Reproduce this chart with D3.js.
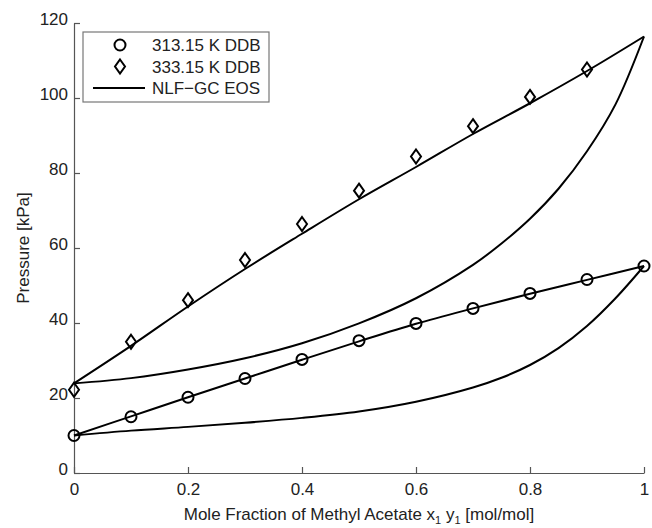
<!DOCTYPE html>
<html>
<head>
<meta charset="utf-8">
<script src="https://cdn.jsdelivr.net/npm/d3@7/dist/d3.min.js"></script>
<style>
  html, body { margin: 0; padding: 0; background: #fff; }
  svg { display: block; }
  text { font-family: "Liberation Sans", Arial, sans-serif; fill: #222; }
</style>
</head>
<body>
<svg id="chart" width="652" height="528"></svg>
<script>
// ---- data ----
const xData = [0, 0.1, 0.2, 0.3, 0.4, 0.5, 0.6, 0.7, 0.8, 0.9, 1.0];
const p313 = [10.0, 15.0, 20.2, 25.2, 30.3, 35.3, 39.9, 43.9, 47.9, 51.6, 55.2];
const x333 = [0, 0.1, 0.2, 0.3, 0.4, 0.5, 0.6, 0.7, 0.8, 0.9];
const p333 = [22.2, 35.0, 46.1, 56.8, 66.4, 75.3, 84.4, 92.5, 100.3, 107.6];

// NLF-GC EOS model curves
const bubbleX = [0, 0.1, 0.2, 0.3, 0.4, 0.5, 0.6, 0.7, 0.8, 0.9, 1.0];
const bubble313 = [10.0, 15.1, 20.2, 25.2, 30.2, 35.1, 39.8, 43.9, 47.8, 51.5, 55.2];
const bubble333 = [23.9, 33.9, 44.4, 54.4, 63.8, 73.0, 81.6, 90.4, 98.6, 107.2, 116.4];
const dewX = [0, 0.1, 0.2, 0.3, 0.4, 0.5, 0.6, 0.7, 0.75, 0.8, 0.85, 0.9, 0.95, 1.0];
const dew313 = [10.0, 11.3, 12.3, 13.4, 14.7, 16.4, 19.0, 22.8, 25.4, 28.8, 33.3, 39.2, 46.6, 55.2];
const dew333 = [23.9, 25.3, 27.6, 30.6, 34.6, 39.9, 46.6, 55.5, 61.2, 67.8, 75.8, 85.8, 98.3, 116.4];

const xTicks = [0, 0.2, 0.4, 0.6, 0.8, 1];
const yTicks = [0, 20, 40, 60, 80, 100, 120];
const legendLabels = ["313.15 K DDB", "333.15 K DDB", "NLF\u2212GC EOS"];

// ---- layout ----
const svg = d3.select("#chart");
const x = d3.scaleLinear().domain([0, 1]).range([74, 644]);
const y = d3.scaleLinear().domain([0, 120]).range([473, 23]);
const axisColor = "#555";

// axes (inward ticks)
const gx = svg.append("g").attr("transform", `translate(0,${y(0)})`)
  .call(d3.axisBottom(x).tickValues(xTicks).tickSizeInner(-6).tickSizeOuter(0)
    .tickPadding(12).tickFormat(d => d3.format("")(d)));
const gy = svg.append("g").attr("transform", `translate(${x(0)},0)`)
  .call(d3.axisLeft(y).tickValues(yTicks).tickSizeInner(-6).tickSizeOuter(0).tickPadding(6));
[gx, gy].forEach(g => {
  g.select(".domain").attr("stroke", axisColor).attr("stroke-width", 1.2);
  g.selectAll(".tick line").attr("stroke", axisColor).attr("stroke-width", 1.2);
  g.selectAll(".tick text").attr("font-size", 17).attr("fill", "#222")
    .attr("font-family", "'Liberation Sans', Arial, sans-serif");
});
gy.selectAll(".tick text").attr("dy", "0.1em");
gx.selectAll(".tick text").attr("dy", "0.6em");

// axis titles
const xt = svg.append("text").attr("x", (x(0) + x(1)) / 2).attr("y", 520)
  .attr("text-anchor", "middle").attr("font-size", 17);
xt.append("tspan").text("Mole Fraction of Methyl Acetate x");
xt.append("tspan").attr("font-size", 11).attr("dy", 4).text("1");
xt.append("tspan").attr("dy", -4).text(" y");
xt.append("tspan").attr("font-size", 11).attr("dy", 4).text("1");
xt.append("tspan").attr("dy", -4).text(" [mol/mol]");

svg.append("text").attr("transform", `translate(29,${(y(0) + y(120)) / 2}) rotate(-90)`)
  .attr("text-anchor", "middle").attr("font-size", 17).text("Pressure [kPa]");

// model curves
const line = d3.line().x(d => x(d[0])).y(d => y(d[1])).curve(d3.curveCatmullRom.alpha(0.5));
const curves = [
  d3.zip(bubbleX, bubble313), d3.zip(dewX, dew313),
  d3.zip(bubbleX, bubble333), d3.zip(dewX, dew333)
];
svg.append("g").selectAll("path").data(curves).join("path")
  .attr("d", line).attr("fill", "none").attr("stroke", "#000").attr("stroke-width", 2);

// markers
svg.append("g").selectAll("circle").data(d3.zip(xData, p313)).join("circle")
  .attr("cx", d => x(d[0])).attr("cy", d => y(d[1])).attr("r", 5.5)
  .attr("fill", "none").attr("stroke", "#000").attr("stroke-width", 2);
const diamond = (cx, cy) => `M${cx},${cy - 7}L${cx + 5},${cy}L${cx},${cy + 7}L${cx - 5},${cy}Z`;
svg.append("g").selectAll("path").data(d3.zip(x333, p333)).join("path")
  .attr("d", d => diamond(x(d[0]), y(d[1])))
  .attr("fill", "none").attr("stroke", "#000").attr("stroke-width", 2);

// legend
const lg = svg.append("g");
lg.append("rect").attr("x", 83).attr("y", 32).attr("width", 186).attr("height", 70)
  .attr("fill", "#fff").attr("stroke", "#777").attr("stroke-width", 1.2);
const rowY = [45, 66.5, 88];
lg.append("circle").attr("cx", 120).attr("cy", rowY[0]).attr("r", 5.5)
  .attr("fill", "none").attr("stroke", "#000").attr("stroke-width", 2);
lg.append("path").attr("d", diamond(120, rowY[1]))
  .attr("fill", "none").attr("stroke", "#000").attr("stroke-width", 2);
lg.append("line").attr("x1", 93).attr("x2", 145).attr("y1", rowY[2]).attr("y2", rowY[2])
  .attr("stroke", "#000").attr("stroke-width", 2);
lg.selectAll("text.lab").data(legendLabels).join("text").attr("class", "lab")
  .attr("x", 152).attr("y", (d, i) => rowY[i]).attr("dy", "0.36em")
  .attr("font-size", 17).text(d => d);
</script>
</body>
</html>
